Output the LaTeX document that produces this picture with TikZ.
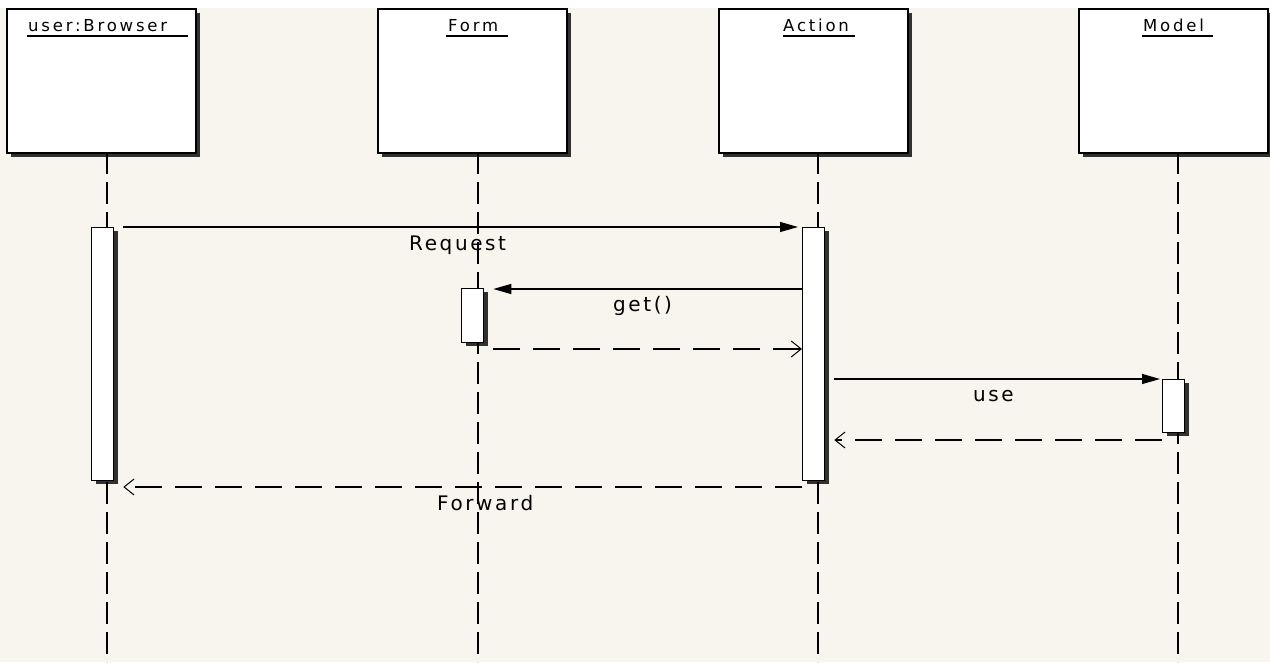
\documentclass[tikz,border=0pt]{standalone}
\usepackage{fontspec}
\newfontfamily\hdrfont{DejaVu Sans}[LetterSpace=17]
\newfontfamily\msgfont{DejaVu Sans}[LetterSpace=13]
\usetikzlibrary{arrows.meta,shadows}
\definecolor{bgcream}{HTML}{F8F5EE}
\tikzset{
  lifebox/.style={draw=black, line width=1.5pt, fill=white, anchor=north west, inner sep=0pt,
    minimum width=189pt, minimum height=144pt,
    drop shadow={shadow xshift=4pt, shadow yshift=-4pt, fill=black, opacity=0.8}},
  actbar/.style={draw=black, line width=1.3pt, fill=white, anchor=north west, inner sep=0pt,
    minimum width=22pt,
    drop shadow={shadow xshift=4pt, shadow yshift=-3pt, fill=black, opacity=0.8}},
  hdr/.style={anchor=base west, inner sep=0pt, font=\hdrfont\fontsize{16.5}{19}\selectfont},
  msglabel/.style={anchor=base west, inner sep=0pt, font=\msgfont\fontsize{20}{23}\selectfont},
  lifeline/.style={line width=1.7pt, dash pattern=on 22pt off 8pt},
  callmsg/.style={line width=1.2pt, -{Triangle[length=18pt,width=10pt]}},
  retmsg/.style={line width=1.2pt, dash pattern=on 27pt off 13pt, -{Straight Barb[length=10pt,width=16pt,line width=1pt]}},
  uline/.style={line width=1.3pt}
}
\begin{document}
\begin{tikzpicture}[x=1pt,y=-1pt]
\useasboundingbox (0,0) rectangle (1270,662);
\fill[bgcream] (0,0) rectangle (1270,662);
\fill[white] (0,0) rectangle (1270,8);

% lifelines
\coordinate (l1t) at (107,152); \coordinate (l1b) at (107,662);
\coordinate (l2t) at (478,152); \coordinate (l2b) at (478,662);
\coordinate (l3t) at (818,152); \coordinate (l3b) at (818,662);
\coordinate (l4t) at (1178,152); \coordinate (l4b) at (1178,662);
\draw[lifeline] (l1t) -- (l1b);
\draw[lifeline] (l2t) -- (l2b);
\draw[lifeline] (l3t) -- (l3b);
\draw[lifeline] (l4t) -- (l4b);

% header boxes
\node[lifebox] (b1) at (6,8) {};
\node[lifebox] (b2) at (377,8) {};
\node[lifebox] (b3) at (718,8) {};
\node[lifebox] (b4) at (1078,8) {};

\node[hdr] (h1) at (28,31) {user:Browser};
\node[hdr] (h2) at (448,31) {Form};
\node[hdr] (h3) at (783,31) {Action};
\node[hdr] (h4) at (1143,31) {Model};
\draw[uline] (27,36) -- (188,36);
\draw[uline] (446,36) -- (508,36);
\draw[uline] (783,36) -- (855,36);
\draw[uline] (1142,36) -- (1213,36);

% activation bars
\node[actbar, minimum height=253pt] (a1) at (91,227) {};
\node[actbar, minimum height=253pt] (a3) at (802,227) {};
\node[actbar, minimum height=54pt] (a2) at (461,288) {};
\node[actbar, minimum height=53pt] (a4) at (1162,379) {};

% messages
\coordinate (y289) at (0,289);
\coordinate (y349) at (0,349);
\coordinate (y379) at (0,379);
\coordinate (y440) at (0,440);
\coordinate (y487) at (0,487);
\draw[callmsg, shorten <=9pt, shorten >=4pt] (a1.north east) -- (a3.north west);
\draw[callmsg, shorten >=9pt] (a3.west |- y289) -- (a2.east |- y289);
\draw[retmsg, shorten <=9pt] (a2.east |- y349) -- (a3.west |- y349);
\draw[callmsg, shorten <=9pt, shorten >=2pt] (a3.east |- y379) -- (a4.west |- y379);
\draw[retmsg, shorten >=9pt] (a4.west |- y440) -- (a3.east |- y440);
\draw[retmsg, shorten >=9pt] (a3.west |- y487) -- (a1.east |- y487);

\node[msglabel] (m1) at (409,250) {Request};
\node[msglabel] (m2) at (613,311) {get()};
\node[msglabel] (m3) at (973,401) {use};
\node[msglabel] (m4) at (437,510) {Forward};
\end{tikzpicture}
\end{document}
